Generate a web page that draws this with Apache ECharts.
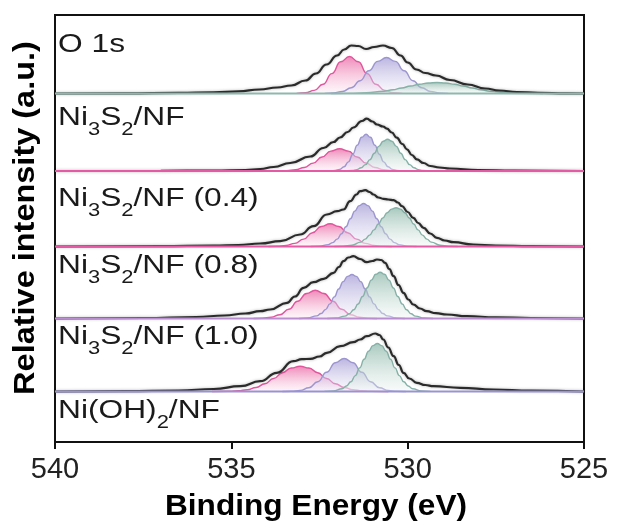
<!DOCTYPE html>
<html>
<head>
<meta charset="utf-8">
<script src="https://cdn.jsdelivr.net/npm/echarts@6/dist/echarts.min.js"></script>
<style>
  html, body { margin: 0; padding: 0; background: #fff; }
  #chart { width: 617px; height: 525px; }
</style>
</head>
<body>
<div id="chart"></div>
<script>
// O 1s core-level spectra with fitted components, stacked from top to bottom.
// Energies in eV, intensities in arbitrary units above each spectrum's own baseline.

const xTicks = [540, 535, 530, 525];
const sampleLabels = ['O 1s', 'Ni_3S_2/NF', 'Ni_3S_2/NF (0.4)', 'Ni_3S_2/NF (0.8)', 'Ni_3S_2/NF (1.0)', 'Ni(OH)_2/NF'];

// ---- spectrum 1 ----
const s1Envelope = [[540,0],[538,0.2],[536.5,0.6],[535.5,1.2],[534.8,2.2],[534.2,4],[533.7,6],[533.3,8],[532.9,13],[532.6,20],[532.3,29],[532.0,38],[531.8,44],[531.6,48],[531.4,47.5],[531.18,44.5],[530.95,46.5],[530.7,48],[530.45,45.5],[530.2,38],[530.0,31],[529.75,24],[529.5,20.5],[529.2,18],[528.8,13.5],[528.3,9],[527.8,5],[527.4,3],[526.9,1.5],[526.3,0.6],[525.5,0.2],[525,0]];
const s1Pink = [[533.15,0.1],[532.9,0.8],[532.65,3.1],[532.4,9.2],[532.15,19.9],[531.9,31.7],[531.65,37],[531.4,31.7],[531.15,19.9],[530.9,9.2],[530.65,3.1],[530.4,0.8],[530.15,0.1]];
const s1Purple = [[532.35,0.1],[532.1,0.6],[531.85,2.0],[531.6,5.7],[531.35,12.7],[531.1,22.7],[530.85,32.1],[530.6,36],[530.35,32.1],[530.1,22.7],[529.85,12.7],[529.6,5.7],[529.35,2.0],[529.1,0.6],[528.85,0.1]];
const s1Green = [[532.17,0.02],[531.67,0.14],[531.17,0.7],[530.67,2.3],[530.42,3.7],[530.17,5.5],[529.92,7.5],[529.67,9.3],[529.42,10.5],[529.17,11],[528.92,10.5],[528.67,9.3],[528.42,7.5],[528.17,5.5],[527.92,3.7],[527.67,2.3],[527.17,0.7],[526.67,0.14],[526.17,0.02]];

// ---- spectrum 2 ----
const s2Envelope = [[540,0],[537,0.2],[535.5,0.5],[534.6,1],[534.18,2],[533.8,4],[533.33,8],[532.76,14.5],[532.39,23],[532.1,29],[531.92,33.5],[531.7,39],[531.54,43.5],[531.3,50],[531.16,52.3],[531.0,49.5],[530.87,46.5],[530.7,44.5],[530.59,42.3],[530.45,38.5],[530.31,33.3],[530.15,27],[530.02,21.7],[529.88,16],[529.74,11.7],[529.55,8],[529.36,5],[529.1,3.5],[528.8,2.5],[528.0,1],[527,0.4],[525,0]];
const s2Pink = [[533.68,0.08],[533.43,0.35],[533.18,1.24],[532.93,3.5],[532.68,7.9],[532.43,14.0],[532.18,19.9],[531.93,22.3],[531.68,19.9],[531.43,14.0],[531.18,7.9],[530.93,3.5],[530.68,1.24],[530.43,0.35],[530.18,0.08]];
const s2Purple = [[532.18,0.15],[532.055,0.5],[531.93,1.6],[531.805,4.2],[531.68,9.1],[531.555,16.8],[531.43,25.9],[531.305,33.7],[531.18,36.7],[531.055,33.7],[530.93,25.9],[530.805,16.8],[530.68,9.1],[530.555,4.2],[530.43,1.6],[530.305,0.5],[530.18,0.15]];
const s2Green = [[531.82,0.05],[531.57,0.54],[531.445,1.4],[531.32,3.2],[531.195,6.4],[531.07,11.4],[530.945,17.8],[530.82,24.6],[530.695,29.7],[530.57,31.7],[530.445,29.7],[530.32,24.6],[530.195,17.8],[530.07,11.4],[529.945,6.4],[529.82,3.2],[529.695,1.4],[529.57,0.54],[529.32,0.05]];

// ---- spectrum 3 ----
const s3Envelope = [[540,0],[537,0.3],[535.5,0.8],[534.8,1.5],[534.18,3],[533.61,5.3],[533.05,12],[532.67,20.3],[532.29,32],[532.0,35.3],[531.82,37],[531.63,45.3],[531.45,52],[531.35,55.3],[531.2,56.3],[531.08,54.5],[530.97,52],[530.83,49],[530.69,47.7],[530.55,47],[530.4,46.3],[530.28,44],[530.16,40.3],[530.0,34.5],[529.84,28.7],[529.7,23.5],[529.55,18.7],[529.36,13],[529.17,8.7],[528.95,6],[528.7,4.3],[528.14,2],[527.5,1],[526.5,0.4],[525,0]];
const s3Pink = [[533.95,0.05],[533.7,0.25],[533.45,1.0],[533.2,3.1],[532.95,7.4],[532.7,13.8],[532.45,20.0],[532.2,22.7],[531.95,20.0],[531.7,13.8],[531.45,7.4],[531.2,3.1],[530.95,1.0],[530.7,0.25],[530.45,0.05]];
const s3Purple = [[532.75,0.04],[532.5,0.33],[532.25,1.9],[532.125,3.9],[532.0,7.4],[531.875,12.7],[531.75,19.7],[531.625,27.7],[531.5,35.4],[531.375,40.9],[531.25,43],[531.125,40.9],[531.0,35.4],[530.875,27.7],[530.75,19.7],[530.625,12.7],[530.5,7.4],[530.375,3.9],[530.25,1.9],[530.0,0.33],[529.75,0.04]];
const s3Green = [[532.08,0.05],[531.83,0.29],[531.58,1.3],[531.33,4.4],[531.205,7.4],[531.08,11.4],[530.955,16.6],[530.83,22.5],[530.705,28.5],[530.58,33.8],[530.455,37.4],[530.33,38.7],[530.205,37.4],[530.08,33.8],[529.955,28.5],[529.83,22.5],[529.705,16.6],[529.58,11.4],[529.455,7.4],[529.33,4.4],[529.08,1.3],[528.83,0.29],[528.58,0.05]];

// ---- spectrum 4 ----
const s4Envelope = [[540,0],[537.5,0.5],[536,1.5],[535.2,3],[534.6,5],[534.18,7.3],[533.9,9],[533.42,15.7],[533.2,22],[532.95,30.7],[532.67,36.3],[532.38,39.7],[532.1,45.7],[531.95,51.5],[531.82,57.3],[531.68,61],[531.54,62.3],[531.35,59.5],[531.16,56.3],[531.0,57.5],[530.87,59],[530.75,58.5],[530.64,55.7],[530.52,49.5],[530.4,42.3],[530.26,33.5],[530.12,25.7],[529.98,19],[529.84,14],[529.65,10],[529.46,7.3],[529.2,5.3],[528.89,4],[528.32,2.3],[527.5,1.2],[526.5,0.5],[525,0]];
const s4Pink = [[534.37,0.06],[534.12,0.31],[533.87,1.25],[533.62,3.8],[533.37,9.2],[533.12,17.2],[532.87,25.0],[532.62,28.3],[532.37,25.0],[532.12,17.2],[531.87,9.2],[531.62,3.8],[531.37,1.25],[531.12,0.31],[530.87,0.06]];
const s4Purple = [[533.08,0.07],[532.83,0.53],[532.58,2.6],[532.455,5.0],[532.33,8.9],[532.205,14.6],[532.08,21.6],[531.955,29.5],[531.83,36.9],[531.705,42.1],[531.58,44],[531.455,42.1],[531.33,36.9],[531.205,29.5],[531.08,21.6],[530.955,14.6],[530.83,8.9],[530.705,5.0],[530.58,2.6],[530.33,0.53],[530.08,0.07]];
const s4Green = [[532.28,0.06],[532.03,0.44],[531.78,2.4],[531.655,4.75],[531.53,8.7],[531.405,14.5],[531.28,22.0],[531.155,30.5],[531.03,38.4],[530.905,44.2],[530.78,46.3],[530.655,44.2],[530.53,38.4],[530.405,30.5],[530.28,22.0],[530.155,14.5],[530.03,8.7],[529.905,4.75],[529.78,2.4],[529.53,0.44],[529.28,0.06]];

// ---- spectrum 5 ----
const s5Envelope = [[540,0],[538,0.3],[536.5,1],[535.5,2.5],[534.74,5.3],[534.18,10.3],[533.71,18.7],[533.24,30.3],[533.0,32.3],[532.76,32.7],[532.5,35],[532.29,38.7],[531.91,45.3],[531.54,49.3],[531.35,52],[531.16,55.3],[530.92,58],[530.8,56.5],[530.69,52],[530.55,44],[530.4,35.3],[530.25,26.5],[530.12,18.7],[529.95,13],[529.74,8.7],[529.5,6.5],[529.27,5.3],[528.51,3.7],[527.57,2],[526.5,0.8],[525,0]];
const s5Pink = [[535.55,0.02],[535.05,0.22],[534.8,0.68],[534.55,1.77],[534.3,4.0],[534.05,7.7],[533.8,13.0],[533.55,18.8],[533.3,23.5],[533.05,25.3],[532.8,23.5],[532.55,18.8],[532.3,13.0],[532.05,7.7],[531.8,4.0],[531.55,1.77],[531.3,0.68],[531.05,0.22],[530.55,0.02]];
const s5Purple = [[533.55,0.04],[533.3,0.25],[533.05,1.1],[532.8,3.8],[532.55,9.7],[532.3,19.2],[532.05,28.8],[531.8,33],[531.55,28.8],[531.3,19.2],[531.05,9.7],[530.8,3.8],[530.55,1.1],[530.3,0.25],[530.05,0.04]];
const s5Green = [[532.36,0.08],[532.11,0.58],[531.86,2.8],[531.735,5.5],[531.61,9.7],[531.485,15.9],[531.36,23.6],[531.235,32.2],[531.11,40.2],[530.985,45.9],[530.86,48],[530.735,45.9],[530.61,40.2],[530.485,32.2],[530.36,23.6],[530.235,15.9],[530.11,9.7],[529.985,5.5],[529.86,2.8],[529.61,0.58],[529.36,0.08]];

const baselineRange = [[540, 0], [525, 0]];

// ---- drawing ----
const spectra = [
  { env: s1Envelope, comps: [s1Pink, s1Purple, s1Green], base: '#8fb7ae' },
  { env: s2Envelope, comps: [s2Pink, s2Purple, s2Green], base: '#e65aa5' },
  { env: s3Envelope, comps: [s3Pink, s3Purple, s3Green], base: '#e65aa5' },
  { env: s4Envelope, comps: [s4Pink, s4Purple, s4Green], base: '#b98dd0' },
  { env: s5Envelope, comps: [s5Pink, s5Purple, s5Green], base: '#9a93d3' }
];
// vertical stacking offset of each spectrum (same units as the y axis)
const stackOffsets = [348.5, 271, 195.5, 123.5, 50.5];
const labelCenters = [49, 122, 203, 270, 341, 415];

const compStyles = [
  { line: '#e0559c', top: 'rgba(232,78,150,0.95)', bottom: 'rgba(252,232,242,0.55)' },
  { line: '#9c95d0', top: 'rgba(150,141,206,0.92)', bottom: 'rgba(242,240,251,0.55)' },
  { line: '#86b1a6', top: 'rgba(122,171,156,0.92)', bottom: 'rgba(238,245,242,0.55)' }
];

const shift = (pts, off) => pts.map(p => [p[0], p[1] + off]);

const series = [];
spectra.forEach((sp, i) => {
  const off = stackOffsets[i];
  sp.comps.forEach((pts, j) => {
    const st = compStyles[j];
    series.push({
      type: 'line', data: shift(pts, off), symbol: 'none', silent: true,
      smooth: 0.5, smoothMonotone: 'x',
      lineStyle: { color: st.line, width: 1.4 },
      areaStyle: {
        origin: off,
        color: new echarts.graphic.LinearGradient(0, 0, 0, 1, [
          { offset: 0, color: st.top }, { offset: 1, color: st.bottom }
        ])
      },
      z: 3 + j
    });
  });
  series.push({
    type: 'line', data: shift(sp.env, off), symbol: 'none', silent: true,
    smooth: 0.5, smoothMonotone: 'x',
    lineStyle: { color: '#2b2b2b', width: 2.2, shadowColor: 'rgba(0,0,0,0.3)', shadowBlur: 3 },
    z: 8
  });
  series.push({
    type: 'line', data: shift(baselineRange, off), symbol: 'none', silent: true,
    lineStyle: { color: sp.base, width: 2 }, z: 9
  });
});

function toRich(s) {
  return '{n|' + s.replace(/_(\d)/g, '}{s|$1}{n|') + '}';
}

const FONT = 'Liberation Sans, Arial, sans-serif';
const graphics = sampleLabels.map((s, i) => ({
  type: 'text', x: 58, y: labelCenters[i], z: 20, silent: true, scaleX: 1.22,
  style: {
    text: toRich(s), align: 'left', verticalAlign: 'middle',
    rich: {
      n: { fontSize: 26, fontFamily: FONT, fill: '#1a1a1a', lineHeight: 34, verticalAlign: 'top' },
      s: { fontSize: 18, fontFamily: FONT, fill: '#1a1a1a', lineHeight: 12, verticalAlign: 'bottom' }
    }
  }
}));
graphics.push({
  type: 'text', x: 316, y: 507, silent: true, scaleX: 1.09,
  style: { text: 'Binding Energy (eV)', font: 'bold 29px ' + FONT, fill: '#000', align: 'center', verticalAlign: 'middle' }
});
graphics.push({
  type: 'text', x: 26, y: 218, rotation: Math.PI / 2, silent: true, scaleX: 1.12,
  style: { text: 'Relative intensity (a.u.)', font: 'bold 29px ' + FONT, fill: '#000', align: 'center', verticalAlign: 'middle' }
});

const chart = echarts.init(document.getElementById('chart'), null, { renderer: 'canvas' });
chart.setOption({
  animation: false,
  backgroundColor: '#fff',
  grid: { left: 55, right: 33, top: 15, bottom: 83, show: true, borderColor: '#111', borderWidth: 2, backgroundColor: 'transparent' },
  xAxis: {
    type: 'value', min: xTicks[xTicks.length - 1], max: xTicks[0], interval: 5, inverse: true,
    axisLine: { show: true, lineStyle: { color: '#111', width: 2 } },
    axisTick: { show: true, inside: false, length: 7, lineStyle: { color: '#111', width: 2 } },
    axisLabel: { fontSize: 29, fontFamily: FONT, color: '#222', margin: 13 },
    splitLine: { show: false }
  },
  yAxis: {
    type: 'value', min: 0, max: 427,
    axisLine: { show: true, lineStyle: { color: '#111', width: 2 } },
    axisTick: { show: false }, axisLabel: { show: false }, splitLine: { show: false }
  },
  series: series,
  graphic: graphics
});
</script>
</body>
</html>
